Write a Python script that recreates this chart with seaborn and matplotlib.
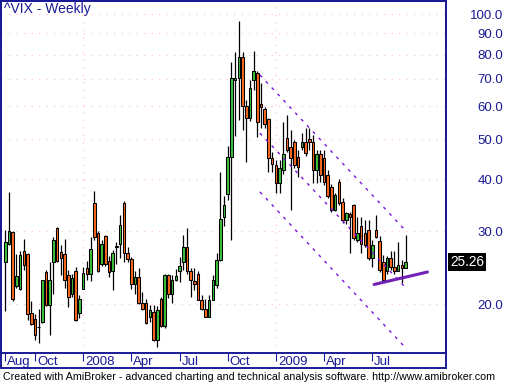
import numpy as np
import pandas as pd
import matplotlib
matplotlib.use("Agg")
import matplotlib.pyplot as plt
from matplotlib.ticker import NullLocator
from matplotlib.patches import Rectangle
import seaborn as sns

# ---- weekly OHLC ----
opens = [25.3, 27.9, 29.9, 22.1, 21.7, 26.8, 26.4, 19.0, 18.4, 17.6,
         18.1, 23.9, 19.9, 25.2, 30.6, 26.7, 26.4, 23.5, 21.1, 24.0,
         19.0, 21.8, 24.5, 23.7, 35.0, 29.6, 25.0, 29.2, 25.4, 24.0,
         27.5, 27.9, 35.0, 26.5, 25.7, 22.3, 23.3, 20.1, 20.1, 18.6,
         19.1, 16.4, 20.6, 17.7, 23.5, 21.1, 22.9, 24.1, 25.3, 27.4,
         24.0, 22.7, 23.7, 20.5, 19.5, 18.6, 20.5, 22.2, 25.6, 32.4,
         36.8, 45.2, 69.6, 70.3, 79.0, 60.1, 56.1, 69.6, 72.3, 60.8,
         59.0, 55.8, 44.9, 43.3, 39.1, 42.1, 50.2, 47.8, 49.2, 45.3,
         47.9, 49.2, 49.9, 49.2, 42.1, 46.0, 44.9, 41.0, 38.4, 33.8,
         39.4, 35.2, 31.9, 33.0, 34.6, 28.6, 30.8, 29.7, 30.2, 25.8,
         30.2, 28.4, 25.3, 24.0, 25.8, 24.6, 24.1, 24.8, 24.5]
highs = [30.2, 37.3, 30.0, 26.4, 26.8, 28.7, 26.6, 20.3, 18.9, 19.5,
         22.9, 24.2, 25.2, 29.0, 30.7, 27.8, 28.7, 24.2, 23.7, 24.6,
         21.0, 24.6, 25.4, 29.0, 37.4, 30.0, 28.5, 29.4, 26.1, 27.0,
         28.3, 32.8, 35.5, 27.5, 26.0, 24.0, 24.4, 21.4, 20.6, 19.9,
         19.9, 19.8, 20.8, 23.7, 23.7, 23.5, 24.3, 26.0, 29.3, 30.6,
         24.4, 24.4, 24.0, 21.0, 20.6, 21.0, 23.5, 26.5, 41.7, 36.4,
         48.1, 76.9, 81.2, 96.5, 81.2, 62.1, 69.6, 81.7, 72.9, 68.2,
         59.9, 56.1, 46.6, 44.5, 44.5, 55.0, 57.2, 52.6, 49.7, 47.1,
         51.8, 53.1, 53.1, 51.1, 47.1, 47.1, 47.1, 42.1, 39.0, 37.0,
         40.0, 36.0, 33.4, 33.3, 34.9, 32.5, 32.5, 31.9, 31.9, 28.5,
         32.8, 29.2, 26.3, 26.1, 26.8, 26.8, 28.2, 25.6, 29.3]
lows = [19.2, 27.8, 20.3, 21.9, 21.6, 24.2, 18.3, 17.8, 16.4, 16.1,
        18.0, 19.8, 16.8, 21.2, 25.2, 23.5, 21.9, 19.7, 20.8, 18.2,
        18.5, 21.7, 22.9, 22.7, 28.5, 23.9, 24.7, 24.7, 23.3, 21.6,
        25.0, 25.8, 25.3, 25.3, 21.7, 21.2, 20.0, 19.3, 17.9, 18.1,
        16.3, 15.8, 17.6, 17.5, 20.7, 20.1, 22.7, 22.6, 24.2, 23.7,
        20.8, 21.6, 20.5, 19.3, 18.6, 18.6, 20.5, 21.9, 25.4, 30.8,
        35.6, 28.5, 50.9, 55.6, 52.6, 44.1, 55.3, 65.7, 50.7, 53.2,
        53.1, 41.7, 41.7, 37.0, 37.0, 41.2, 46.6, 33.7, 42.6, 40.6,
        47.1, 45.5, 47.1, 39.1, 39.1, 39.5, 38.7, 36.1, 33.3, 33.5,
        34.7, 31.3, 31.2, 26.6, 28.5, 28.3, 26.5, 27.4, 25.5, 24.6,
        28.9, 23.9, 22.9, 23.7, 24.2, 23.7, 24.0, 22.5, 24.5]
closes = [28.2, 30.0, 20.6, 23.4, 26.3, 24.8, 18.9, 17.9, 16.8, 17.6,
          22.8, 19.9, 22.9, 28.5, 25.4, 25.9, 22.9, 20.8, 23.1, 18.3,
          20.6, 23.8, 23.6, 27.1, 29.0, 24.0, 27.9, 25.0, 23.9, 26.5,
          27.5, 31.1, 26.6, 25.7, 22.3, 23.3, 20.1, 19.5, 18.0, 19.3,
          16.4, 19.4, 17.7, 23.5, 21.1, 22.9, 23.4, 24.7, 27.4, 24.0,
          22.9, 22.4, 20.5, 19.5, 18.6, 20.5, 22.9, 25.6, 32.0, 34.7,
          45.3, 70.1, 70.3, 79.0, 60.1, 56.1, 66.3, 73.0, 55.1, 59.9,
          54.4, 44.9, 43.6, 39.1, 42.6, 46.0, 47.2, 44.9, 43.3, 42.9,
          49.2, 46.4, 49.2, 42.1, 46.0, 41.0, 39.5, 36.5, 33.8, 36.6,
          35.1, 31.9, 33.1, 32.5, 28.8, 29.7, 28.0, 27.8, 25.8, 27.8,
          29.0, 24.2, 22.9, 25.8, 24.6, 24.1, 24.8, 24.5, 25.26]
dates = pd.date_range("2007-08-10", periods=len(closes), freq="W-FRI")

y_ticks = [20, 30, 40, 50, 60, 70, 80, 90, 100]

# channel (dashed) and support (solid) lines: bar index / value pairs
channel_x = [68.7, 107.8]
upper_vals = [71.4, 30.2]
middle_vals = [51.7, 22.0]
lower_vals = [37.3, 15.75]
support_x = [99.5, 113.9]
support_vals = [22.3, 23.9]

title = "^VIX - Weekly"
footer = ("Created with AmiBroker - advanced charting and technical analysis "
          "software. http://www.amibroker.com")

# ---- styling ----
sns.set_theme(style="white")
plt.rcParams['font.family'] = ['Liberation Sans', 'DejaVu Sans']
NAVY = '#1a1a96'
GREEN = '#3cbf3c'
ORANGE = '#f8661e'
PINK = '#ffc4d4'
PURPLE = '#7a14dc'

W, H = 507, 383
fig = plt.figure(figsize=(W / 100, H / 100), dpi=100)
fig.patch.set_facecolor('white')


def fx(px):
    return px / W


def fy(py):
    return 1 - py / H


ax = fig.add_axes([fx(1), fy(353), fx(446) - fx(1), fy(1) - fy(353)])
ax.set_facecolor('white')

df = pd.DataFrame({"idx": np.arange(len(closes)), "open": opens, "high": highs,
                   "low": lows, "close": closes, "date": dates})
df["up"] = df["close"] >= df["open"]
df["bottom"] = df[["open", "close"]].min(axis=1)
df["height"] = (df["close"] - df["open"]).abs().clip(lower=0.05)

ax.set_yscale('log')
ax.set_xlim(-1.16, 118.9)
ax.set_ylim(15.24, 107.7)

# grid
ax.set_yticks(y_ticks)
ax.yaxis.set_minor_locator(NullLocator())
for v in y_ticks:
    ax.axhline(v, color=PINK, lw=0.9, ls=(0, (1, 5)), zorder=0)

# x ticks
tick_idx, tick_lab = [0], [dates[0].strftime('%b')]
for i in range(1, len(dates)):
    if dates[i].month != dates[i - 1].month and dates[i].month in (1, 4, 7, 10):
        tick_idx.append(i)
        tick_lab.append(str(dates[i].year) if dates[i].month == 1 else dates[i].strftime('%b'))
        if dates[i].month == 1:
            ax.axvline(i, color=PINK, lw=0.9, ls=(0, (1, 5)), zorder=0)

# candles
ax.vlines(df["idx"], df["low"], df["high"], color='black', lw=0.9, zorder=2)
ax.bar(df["idx"], df["height"], bottom=df["bottom"], width=0.7,
       color=np.where(df["up"], GREEN, ORANGE), edgecolor='black', linewidth=0.75, zorder=3)

# channel lines via seaborn
for vals in (upper_vals, middle_vals, lower_vals):
    sns.lineplot(x=channel_x, y=vals, ax=ax, color=PURPLE, lw=1.0,
                 linestyle=(0, (2.2, 4)), zorder=4)
sns.lineplot(x=support_x, y=support_vals, ax=ax, color='#7020b4', lw=2.2,
             zorder=5)

# axes styling
ax.set_xticks(tick_idx)
ax.set_xticklabels([''] * len(tick_idx))
ax.tick_params(axis='x', direction='out', length=5.5, width=0.8, color=NAVY, bottom=True)
for i, lab in zip(tick_idx, tick_lab):
    ax.annotate(lab, xy=(i, 0), xycoords=('data', 'axes fraction'), xytext=(2, -3),
                textcoords='offset pixels', ha='left', va='top', color=NAVY,
                fontsize=9.5)

ax.yaxis.tick_right()
ax.set_yticklabels([f"{v:.1f}" for v in y_ticks])
ax.tick_params(axis='y', length=0, pad=41, labelcolor=NAVY, labelsize=9.5)
for lab in ax.get_yticklabels():
    lab.set_horizontalalignment('right')

for s in ax.spines.values():
    s.set_color(NAVY)
    s.set_linewidth(1.4)
ax.set_xlabel('')
ax.set_ylabel('')
if ax.get_legend():
    ax.get_legend().remove()

# outer frame incl. date strip
fig.add_artist(Rectangle((fx(1), fy(368)), fx(446) - fx(1), fy(1) - fy(368),
                         transform=fig.transFigure, fill=False, ec=NAVY, lw=1.4))

# last price box
ax.annotate(f"{closes[-1]:.2f}", xy=(1.0, closes[-1]), xycoords=('axes fraction', 'data'),
            xytext=(4, 0), textcoords='offset pixels', ha='left', va='center',
            color='white', fontsize=9.8,
            bbox=dict(facecolor='black', edgecolor='none', pad=1.3))

fig.text(fx(4), fy(9), title, ha='left', va='center', color=NAVY, fontsize=10)
fig.text(fx(3), fy(377), footer, ha='left', va='center', color='black', fontsize=7.65)

fig.savefig("out.png", dpi=100, facecolor='white')
